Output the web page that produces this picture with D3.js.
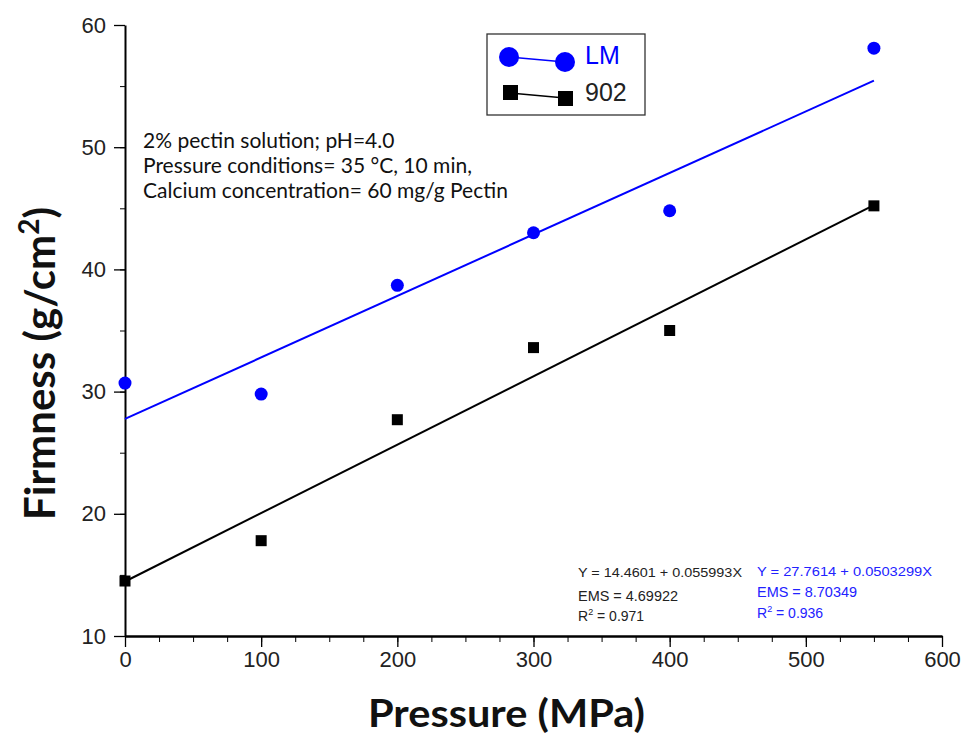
<!DOCTYPE html>
<meta charset="utf-8">
<style>
body { margin: 0; background: #fff; }
.tick text { font: 22px "Liberation Sans", Arial, sans-serif; fill: #222; }
.axis path, .axis line { stroke: #000; }
.title { font-family: Lato, "Open Sans", sans-serif; font-weight: bold; fill: #111; }
.note { font-family: Lato, "Open Sans", sans-serif; font-size: 21px; fill: #111; }
.eq { font-family: "Liberation Sans", Arial, sans-serif; font-size: 13px; }
</style>
<body>
<script src="https://d3js.org/d3.v7.min.js"></script>
<script>

var pressure = [0, 100, 200, 300, 400, 550];
var lmValues = [30.7, 29.8, 38.7, 43.0, 44.8, 58.1];
var pectin902 = [14.5, 17.8, 27.7, 33.6, 35.0, 45.2];
// fitted lines, from the equations in the plot
var fitLM = {a: 27.7614, b: 0.0503299};
var fit902 = {a: 14.4601, b: 0.055993};
var xTicks = [0, 100, 200, 300, 400, 500, 600];
var yTicks = [10, 20, 30, 40, 50, 60];
var notes = ["2% pectin solution; pH=4.0", "Pressure conditions= 35 \u00b0C, 10 min,", "Calcium concentration= 60 mg/g Pectin"];
var eq902 = ["Y = 14.4601 + 0.055993X", "EMS = 4.69922", "0.971"];
var eqLM = ["Y = 27.7614 + 0.0503299X", "EMS = 8.70349", "0.936"];

var width = 964, height = 735;
var x = d3.scaleLinear().domain([0, 600]).range([125, 942]);
var y = d3.scaleLinear().domain([10, 60]).range([636, 25]);

var svg = d3.select("body").append("svg")
    .attr("width", width)
    .attr("height", height);

// minor ticks
svg.append("g")
    .attr("class", "axis")
    .attr("transform", "translate(0,636)")
    .call(d3.axisBottom(x).tickValues(d3.range(0, 601, 25)).tickSize(6).tickFormat(""))
    .call(function(g) { g.select(".domain").remove(); });
svg.append("g")
    .attr("class", "axis")
    .attr("transform", "translate(125,0)")
    .call(d3.axisLeft(y).tickValues(d3.range(10, 61, 5)).tickSize(5).tickFormat(""))
    .call(function(g) { g.select(".domain").remove(); });

var xAxis = svg.append("g")
    .attr("class", "axis")
    .attr("transform", "translate(0,636)")
    .call(d3.axisBottom(x).tickValues(xTicks).tickSize(11).tickSizeOuter(0).tickPadding(4));
xAxis.select(".domain").attr("stroke-width", 2.5);
xAxis.selectAll("line").attr("stroke-width", 1.3);

var yAxis = svg.append("g")
    .attr("class", "axis")
    .attr("transform", "translate(125,0)")
    .call(d3.axisLeft(y).tickValues(yTicks).tickSize(11).tickSizeOuter(0).tickPadding(8));
yAxis.select(".domain").attr("stroke-width", 2);
yAxis.selectAll("line").attr("stroke-width", 1.3);

// fitted lines
var fits = [{f: fitLM, c: "#0000ff"}, {f: fit902, c: "#000"}];
svg.selectAll(".fit").data(fits).enter().append("line")
    .attr("class", "fit")
    .attr("x1", x(0)).attr("x2", x(550))
    .attr("y1", function(d) { return y(d.f.a); })
    .attr("y2", function(d) { return y(d.f.a + d.f.b * 550); })
    .attr("stroke", function(d) { return d.c; })
    .attr("stroke-width", 2);

// points
svg.selectAll(".lm").data(pressure).enter().append("circle")
    .attr("cx", function(d) { return x(d); })
    .attr("cy", function(d, i) { return y(lmValues[i]); })
    .attr("r", 6.5)
    .attr("fill", "#0000ff");

svg.selectAll(".p902").data(pressure).enter().append("rect")
    .attr("x", function(d) { return x(d) - 5.5; })
    .attr("y", function(d, i) { return y(pectin902[i]) - 5.5; })
    .attr("width", 11).attr("height", 11)
    .attr("fill", "#000");

// legend
var lg = svg.append("g");
lg.append("rect").attr("x", 487).attr("y", 34).attr("width", 158).attr("height", 81)
    .attr("fill", "#fff").attr("stroke", "#333").attr("stroke-width", 1.3);
lg.append("line").attr("x1", 509).attr("y1", 57).attr("x2", 565).attr("y2", 62).attr("stroke", "#0000ff").attr("stroke-width", 1.5);
lg.append("circle").attr("cx", 509).attr("cy", 57).attr("r", 10).attr("fill", "#0000ff");
lg.append("circle").attr("cx", 565).attr("cy", 62).attr("r", 10).attr("fill", "#0000ff");
lg.append("line").attr("x1", 510).attr("y1", 93).attr("x2", 565).attr("y2", 98).attr("stroke", "#000").attr("stroke-width", 1.5);
lg.append("rect").attr("x", 503).attr("y", 85).attr("width", 15).attr("height", 15).attr("fill", "#000");
lg.append("rect").attr("x", 558).attr("y", 91).attr("width", 15).attr("height", 15).attr("fill", "#000");
lg.append("text").attr("x", 585).attr("y", 64).attr("class", "eq").style("font-size", "25px").attr("fill", "#0000ff").text("LM");
lg.append("text").attr("x", 585).attr("y", 101).attr("class", "eq").style("font-size", "25px").attr("fill", "#222").text("902");

// notes
svg.selectAll(".note").data(notes).enter().append("text")
    .attr("class", "note")
    .attr("x", 143)
    .attr("y", function(d, i) { return 148 + i * 25; })
    .text(function(d) { return d; });

// equations
function eqBlock(lines, x0, y0s, col, w) {
  var g = svg.append("g").attr("fill", col);
  lines.forEach(function(t, i) {
    var tx = g.append("text").attr("class", "eq").attr("x", x0).attr("y", y0s[i]);
    if (i == 2) {
      tx.style("font-size", "14px");
      tx.append("tspan").text("R");
      tx.append("tspan").attr("dy", -6).style("font-size", "9px").text("2");
      tx.append("tspan").attr("dy", 6).text(" = " + t);
    } else if (i == 1) {
      tx.style("font-size", "14px").text(t)
        .attr("textLength", 100).attr("lengthAdjust", "spacingAndGlyphs");
    } else {
      tx.text(t).attr("textLength", w).attr("lengthAdjust", "spacingAndGlyphs");
    }
  });
}
eqBlock(eq902, 578, [577, 601, 621], "#222", 164);
eqBlock(eqLM, 757, [576, 597, 618], "#2222ff", 175);

// axis titles
svg.append("text").attr("class", "title")
    .attr("x", 368).attr("y", 727)
    .style("font-size", "39px")
    .attr("textLength", 277).attr("lengthAdjust", "spacingAndGlyphs")
    .text("Pressure (MPa)");

var yt = svg.append("text").attr("class", "title")
    .attr("transform", "translate(55,520) rotate(-90)")
    .style("font-size", "42px");
yt.append("tspan").text("Firmness (g/cm");
yt.append("tspan").attr("dy", -16).style("font-size", "28px").text("2");
yt.append("tspan").attr("dy", 16).text(")");

</script>
